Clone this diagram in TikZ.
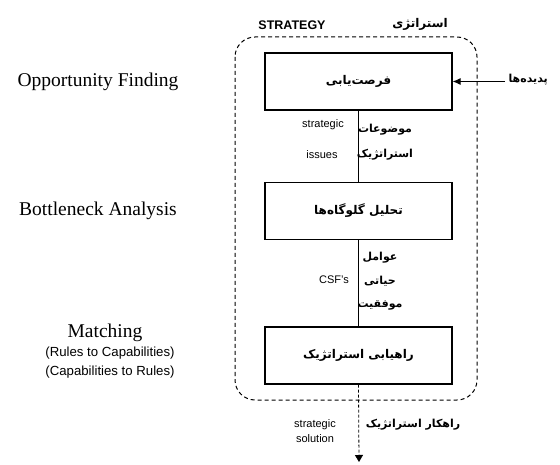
\documentclass[tikz,border=0pt]{standalone}
\usepackage{fontspec}
\usetikzlibrary{arrows.meta}
\setmainfont{Liberation Serif}
\setsansfont{Liberation Sans}
\newfontfamily\fafont[Script=Arabic]{DejaVu Sans}
\TeXXeTstate=1
\newcommand{\fa}[1]{{\fafont\beginR #1\endR}}
\tikzset{
  stagebox/.style={draw, line width=1.1pt, minimum width=187pt, minimum height=57pt, inner sep=0pt},
  fatext/.style={inner sep=0pt, font=\fafont\fontsize{11}{13}\selectfont\bfseries},
  entext/.style={inner sep=0pt, font=\sffamily\fontsize{11}{13}\selectfont},
  lefttext/.style={inner sep=0pt, font=\rmfamily\fontsize{19.5}{22}\selectfont},
  smalltext/.style={inner sep=0pt, font=\sffamily\fontsize{13.2}{15}\selectfont},
  outline/.style={dashed, dash pattern=on 4pt off 3pt, line width=1pt, rounded corners=20pt},
  flow/.style={line width=1pt}
}
\begin{document}
\begin{tikzpicture}[x=1pt,y=-1pt]
\useasboundingbox (0,0) rectangle (560,465);
% outer strategy frame
\draw[outline] (235,37) rectangle (477,400);
\node[inner sep=0pt, font=\sffamily\bfseries\fontsize{12.5}{14}\selectfont] (strat) at (292,25) {STRATEGY};
\node[fatext, font=\fafont\fontsize{12}{14}\selectfont\bfseries] (stratfa) at (420,24) {\beginR استراتژی\endR};
% boxes
\node[stagebox] (b1) at (358.5,81.5) {\fa{\fontsize{12}{14}\selectfont\bfseries فرصت‌یابی}};
\node[stagebox] (b2) at (358.5,211) {\fa{\fontsize{12}{14}\selectfont\bfseries تحلیل گلوگاه‌ها}};
\node[stagebox] (b3) at (358.5,355.5) {\fa{\fontsize{12}{14}\selectfont\bfseries راهیابی استراتژیک}};
% connectors
\draw[flow] (b1.south) -- (b2.north);
\draw[flow] (b2.south) -- (b3.north);
\coordinate (src) at (505,81.5);
\draw[flow, -{Latex[length=8pt,width=7pt]}] (src) -- (b1.east);
\node[fatext, anchor=east] (phen) at (548,80) {\beginR پدیده‌ها\endR};
\coordinate (out) at (359,462);
\draw[line width=0.8pt, dash pattern=on 3pt off 2pt, -{Triangle[length=7pt,width=8pt]}] (b3.south) -- (out);
% labels between boxes
\node[entext] (si1) at (323,125) {strategic};
\node[entext] (si2) at (322,155) {issues};
\node[fatext] (mz1) at (385,130) {\beginR موضوعات\endR};
\node[fatext] (mz2) at (385,155) {\beginR استراتژیک\endR};
\node[entext] (csf) at (334,280) {CSF's};
\node[fatext] (aw1) at (380,258) {\beginR عوامل\endR};
\node[fatext] (aw2) at (380,281) {\beginR حیاتی\endR};
\node[fatext] (aw3) at (380,305) {\beginR موفقیت\endR};
\node[entext] (ss1) at (315,425) {strategic};
\node[entext] (ss2) at (315,439) {solution};
\node[fatext] (rk) at (413,425) {\beginR راهکار استراتژیک\endR};
% left column
\node[lefttext] (opp) at (98,82) {Opportunity Finding};
\node[lefttext] (bot) at (98,211) {Bottleneck Analysis};
\node[lefttext] (mat) at (105,333) {Matching};
\node[smalltext] (rc) at (110,353) {(Rules to Capabilities)};
\node[smalltext] (cr) at (110,372) {(Capabilities to Rules)};
\end{tikzpicture}
\end{document}
